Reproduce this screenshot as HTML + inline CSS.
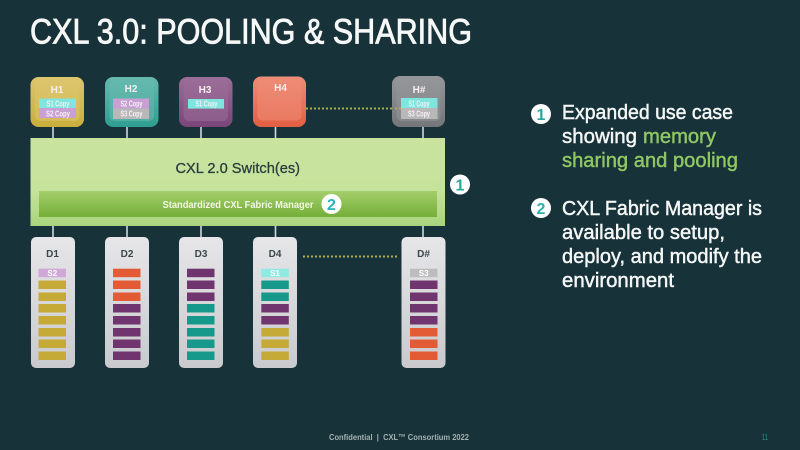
<!DOCTYPE html>
<html><head><meta charset="utf-8"><style>
html,body{margin:0;padding:0;background:#18323a;width:800px;height:450px;overflow:hidden}
svg{display:block}
text{font-family:"Liberation Sans",sans-serif}
.w{fill:#f4f7f6;stroke:#f4f7f6;stroke-width:.45px;font-size:20px}
.g{fill:#8fc763;stroke:#8fc763;stroke-width:.45px;font-size:20px}
.h{fill:#f8eeee;font-size:10px;font-weight:bold;text-anchor:middle}
.d{fill:#3a474c;font-size:10px;font-weight:bold;text-anchor:middle}
.s{fill:#fff;font-size:8px;font-weight:bold;text-anchor:middle}
.k{fill:#f6f0f6;font-size:8px;font-weight:bold}
</style></head><body>
<svg width="800" height="450" viewBox="0 0 800 450" xmlns="http://www.w3.org/2000/svg">
<defs>
<linearGradient id="sw" x1="0" y1="0" x2="0" y2="1"><stop offset="0" stop-color="#c9e39f"/><stop offset=".6" stop-color="#c6e39c"/><stop offset="1" stop-color="#a9d47c"/></linearGradient>
<linearGradient id="fm" x1="0" y1="0" x2="0" y2="1"><stop offset="0" stop-color="#a4cf6c"/><stop offset="1" stop-color="#74ae38"/></linearGradient>
<linearGradient id="dr" x1="0" y1="0" x2="0" y2="1"><stop offset="0" stop-color="#e6e6e8"/><stop offset="1" stop-color="#c9cacd"/></linearGradient>
<linearGradient id="o1" x1="0" y1="0" x2="0" y2="1"><stop offset="0" stop-color="#dcc56e"/><stop offset="1" stop-color="#c9ae3c"/></linearGradient>
<linearGradient id="o2" x1="0" y1="0" x2="0" y2="1"><stop offset="0" stop-color="#66b9ae"/><stop offset="1" stop-color="#2f9e92"/></linearGradient>
<linearGradient id="o3" x1="0" y1="0" x2="0" y2="1"><stop offset="0" stop-color="#9b6d98"/><stop offset="1" stop-color="#7a4579"/></linearGradient>
<linearGradient id="o4" x1="0" y1="0" x2="0" y2="1"><stop offset="0" stop-color="#ee8d77"/><stop offset="1" stop-color="#e25f42"/></linearGradient>
<linearGradient id="o5" x1="0" y1="0" x2="0" y2="1"><stop offset="0" stop-color="#949699"/><stop offset="1" stop-color="#747679"/></linearGradient>
</defs>
<rect width="800" height="450" fill="#18323a"/>
<text x="30" y="43.500" font-size="35" fill="#f6f8f7" stroke="#f6f8f7" stroke-width=".8" textLength="442" lengthAdjust="spacingAndGlyphs">CXL 3.0: POOLING &amp; SHARING</text>

<g stroke="#cfd8dc" stroke-width="1.6">
<path d="M53 126V139M127 126V139M201 126V139M275.500 126V139M423 126V139"/>
<path d="M53 225V238M127 225V238M201 225V238M275.500 225V238M423 225V238"/>
</g>
<path d="M306 108.500H397M303 256.500H397" stroke="#b0ac50" stroke-width="2" stroke-dasharray="2 2"/>

<!-- hosts -->
<rect x="30.500" y="77" width="53.500" height="50" rx="8" fill="url(#o1)"/>
<rect x="35" y="78" width="44.500" height="43" rx="5" fill="#dcc56e" opacity=".55"/>
<rect x="105" y="77" width="53.500" height="50" rx="8" fill="url(#o2)"/>
<rect x="109.500" y="78" width="44.500" height="43" rx="5" fill="#66b9ae" opacity=".55"/>
<rect x="179" y="77" width="53.500" height="50" rx="8" fill="url(#o3)"/>
<rect x="183.500" y="78" width="44.500" height="43" rx="5" fill="#9b6d98" opacity=".55"/>
<rect x="253" y="76.500" width="53" height="50.500" rx="8" fill="url(#o4)"/>
<rect x="257.500" y="77.500" width="44" height="43" rx="5" fill="#ee8d77" opacity=".55"/>
<rect x="392" y="76" width="53" height="51" rx="8" fill="url(#o5)"/>
<rect x="396.500" y="77" width="44" height="44" rx="5" fill="#949699" opacity=".55"/>

<rect x="39" y="98.500" width="37" height="9.500" fill="#7ee6de"/><rect x="39" y="108" width="37" height="10" fill="#c9a0d4"/>
<rect x="113" y="98.500" width="36" height="10" fill="#c9a0d4"/><rect x="113" y="108.500" width="36" height="10.500" fill="#b8b8b8"/>
<rect x="188" y="99" width="36" height="9.600" fill="#7ee6de"/>
<rect x="401" y="98" width="36.500" height="10" fill="#7ee6de"/><rect x="401" y="108" width="36.500" height="11" fill="#b8b8b8"/>
<path d="M395 108.500H401" stroke="#b0ac50" stroke-width="2" stroke-dasharray="2 2"/>

<text class="h" x="57" y="93">H1</text><text class="h" x="131" y="92">H2</text><text class="h" x="205" y="93">H3</text><text class="h" x="280.500" y="91">H4</text><text class="h" x="419" y="93">H#</text>
<text class="k" x="46.500" y="106.500" textLength="23" lengthAdjust="spacingAndGlyphs">S1 Copy</text><text class="k" x="46" y="116.500" textLength="24" lengthAdjust="spacingAndGlyphs">S2 Copy</text>
<text class="k" x="120.500" y="106.500" textLength="22" lengthAdjust="spacingAndGlyphs">S2 Copy</text><text class="k" x="120.500" y="116.500" textLength="22" lengthAdjust="spacingAndGlyphs">S3 Copy</text>
<text class="k" x="195.500" y="106.500" textLength="22" lengthAdjust="spacingAndGlyphs">S1 Copy</text>
<text class="k" x="408.500" y="106.500" textLength="21" lengthAdjust="spacingAndGlyphs">S1 Copy</text><text class="k" x="408" y="116.500" textLength="22" lengthAdjust="spacingAndGlyphs">S3 Copy</text>

<!-- switch -->
<rect x="30.500" y="138" width="414.500" height="88" fill="url(#sw)"/>
<rect x="39" y="191" width="398" height="26" fill="url(#fm)"/>
<text x="175.500" y="173" font-size="15" fill="#2b3f3f" stroke="#2b3f3f" stroke-width=".3" textLength="124.500" lengthAdjust="spacingAndGlyphs">CXL 2.0 Switch(es)</text>
<text x="162.500" y="208" font-size="10" font-weight="bold" fill="#f2f7e6" textLength="151" lengthAdjust="spacingAndGlyphs">Standardized CXL Fabric Manager</text>
<circle cx="331.500" cy="204" r="10" fill="#fff"/>
<text x="331.500" y="210" font-size="16" font-weight="bold" fill="#2ab3bd" text-anchor="middle">2</text>
<circle cx="460" cy="184.500" r="10" fill="#fff"/>
<text x="460" y="190.500" font-size="16" font-weight="bold" fill="#2aa79c" text-anchor="middle">1</text>

<!-- drives -->
<rect x="31" y="237" width="44" height="131" rx="5" fill="url(#dr)"/>
<rect x="105" y="237" width="44" height="131" rx="5" fill="url(#dr)"/>
<rect x="179" y="237" width="44" height="131" rx="5" fill="url(#dr)"/>
<rect x="253" y="237" width="44" height="131" rx="5" fill="url(#dr)"/>
<rect x="401.500" y="237" width="44" height="131" rx="5" fill="url(#dr)"/>
<text class="d" x="52.500" y="257">D1</text><text class="d" x="127" y="257">D2</text><text class="d" x="201" y="257">D3</text><text class="d" x="275" y="257">D4</text><text class="d" x="423.500" y="257">D#</text>

<g fill="#c6aa37">
<rect x="38.500" y="280.500" width="27.500" height="8.500"/><rect x="38.500" y="292.500" width="27.500" height="8.500"/><rect x="38.500" y="304" width="27.500" height="8.500"/><rect x="38.500" y="316" width="27.500" height="8.500"/><rect x="38.500" y="328" width="27.500" height="8.500"/><rect x="38.500" y="339.500" width="27.500" height="8.500"/><rect x="38.500" y="351.500" width="27.500" height="8.500"/>
<rect x="261.300" y="328" width="27.500" height="8.500"/><rect x="261.300" y="339.500" width="27.500" height="8.500"/><rect x="261.300" y="351.500" width="27.500" height="8.500"/>
</g>
<rect x="38.500" y="268.700" width="27.500" height="8.500" fill="#d0a8d8"/>
<g fill="#e35b35">
<rect x="113" y="268.700" width="27.500" height="8.500"/><rect x="113" y="280.500" width="27.500" height="8.500"/><rect x="113" y="292.500" width="27.500" height="8.500"/>
<rect x="410" y="328" width="27.500" height="8.500"/><rect x="410" y="339.500" width="27.500" height="8.500"/><rect x="410" y="351.500" width="27.500" height="8.500"/>
</g>
<g fill="#70356f">
<rect x="113" y="304" width="27.500" height="8.500"/><rect x="113" y="316" width="27.500" height="8.500"/><rect x="113" y="328" width="27.500" height="8.500"/><rect x="113" y="339.500" width="27.500" height="8.500"/><rect x="113" y="351.500" width="27.500" height="8.500"/>
<rect x="187" y="268.700" width="27.500" height="8.500"/><rect x="187" y="280.500" width="27.500" height="8.500"/><rect x="187" y="292.500" width="27.500" height="8.500"/>
<rect x="261.300" y="304" width="27.500" height="8.500"/><rect x="261.300" y="316" width="27.500" height="8.500"/>
<rect x="410" y="280.500" width="27.500" height="8.500"/><rect x="410" y="292.500" width="27.500" height="8.500"/><rect x="410" y="304" width="27.500" height="8.500"/><rect x="410" y="316" width="27.500" height="8.500"/>
</g>
<g fill="#16998a">
<rect x="187" y="304" width="27.500" height="8.500"/><rect x="187" y="316" width="27.500" height="8.500"/><rect x="187" y="328" width="27.500" height="8.500"/><rect x="187" y="339.500" width="27.500" height="8.500"/><rect x="187" y="351.500" width="27.500" height="8.500"/>
<rect x="261.300" y="280.500" width="27.500" height="8.500"/><rect x="261.300" y="292.500" width="27.500" height="8.500"/>
</g>
<rect x="261.300" y="268.700" width="27.500" height="8.500" fill="#8eeae2"/>
<rect x="410" y="268.700" width="27.500" height="8.500" fill="#bdbdbd"/>
<text class="s" x="52.300" y="276">S2</text><text class="s" x="275" y="276">S1</text><text class="s" x="423.700" y="276">S3</text>

<!-- right text -->
<circle cx="541" cy="114" r="10" fill="#fff"/>
<text x="541" y="120" font-size="16" font-weight="bold" fill="#2aa79c" text-anchor="middle">1</text>
<circle cx="541" cy="208" r="10" fill="#fff"/>
<text x="541" y="214" font-size="16" font-weight="bold" fill="#2ab3a8" text-anchor="middle">2</text>
<text class="w" x="562" y="119" textLength="171" lengthAdjust="spacingAndGlyphs">Expanded use case</text>
<text class="w" x="562" y="143" textLength="75" lengthAdjust="spacingAndGlyphs">showing</text>
<text class="g" x="643" y="143" textLength="73" lengthAdjust="spacingAndGlyphs">memory</text>
<text class="g" x="562" y="167" textLength="176" lengthAdjust="spacingAndGlyphs">sharing and pooling</text>
<text class="w" x="562" y="215" textLength="200" lengthAdjust="spacingAndGlyphs">CXL Fabric Manager is</text>
<text class="w" x="562" y="239" textLength="163" lengthAdjust="spacingAndGlyphs">available to setup,</text>
<text class="w" x="562" y="263" textLength="200" lengthAdjust="spacingAndGlyphs">deploy, and modify the</text>
<text class="w" x="562" y="287" textLength="112" lengthAdjust="spacingAndGlyphs">environment</text>

<!-- footer -->
<text x="329" y="440" font-size="8.500" font-weight="bold" fill="#a3b1b1" textLength="140" lengthAdjust="spacingAndGlyphs">Confidential &#160;|&#160; CXL™ Consortium 2022</text>
<text x="762" y="440" font-size="8" fill="#2b8f88" textLength="6" lengthAdjust="spacingAndGlyphs">11</text>
</svg>
</body></html>
